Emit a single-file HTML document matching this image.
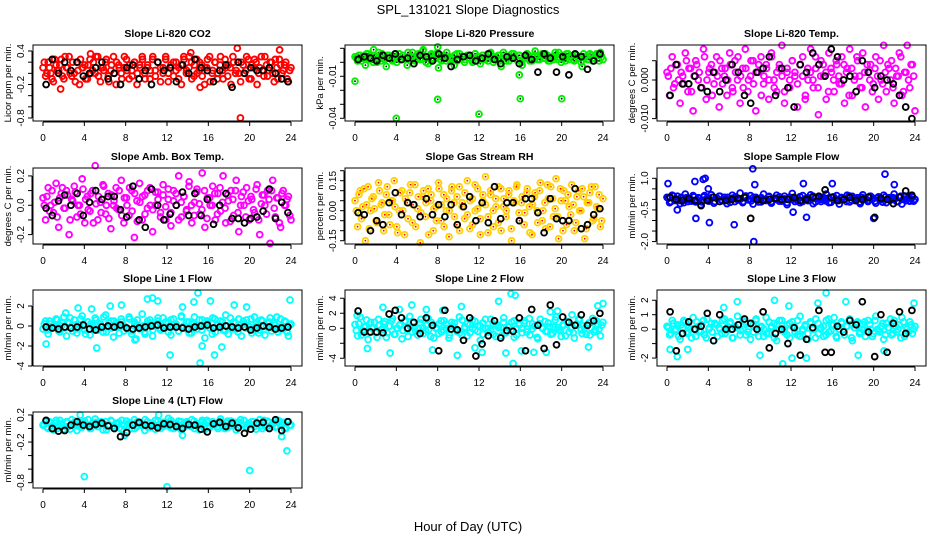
<!DOCTYPE html>
<html><head><meta charset="utf-8"><style>
html,body{margin:0;padding:0;background:#fff;}
svg{display:block;font-family:"Liberation Sans","DejaVu Sans",sans-serif;}
</style></head><body>
<svg id="chart" width="936" height="540" viewBox="0 0 936 540" xmlns="http://www.w3.org/2000/svg">
<rect width="936" height="540" fill="#fff"/>
<text x="468" y="14" text-anchor="middle" font-size="13">SPL_131021  Slope Diagnostics</text>
<text x="468" y="531" text-anchor="middle" font-size="13">Hour of Day (UTC)</text>
</svg>
<script>
// ---- data ----
const hourTicks = [0,4,8,12,16,20,24];
const co2Vals = [0.1,-0.05,0.2,0.0,-0.15,0.15,0.05,0.25,-0.1,0.1,0.3,-0.05,0.0,0.2,-0.2,0.1,0.15,-0.1,0.25,0.05,0.0,0.3,-0.15,0.1,0.2,-0.05,0.05,0.3,-0.2,0.15,0.0,0.1,0.25,-0.1,0.05,0.2,-0.2,0.15,0.3,0.0,0.1,-0.1,0.25,0.05,0.2,-0.15,0.1,0.3,0.0,0.15,-0.05,0.2,0.1,-0.2,0.25,0.05,0.3,-0.1,0.15,0.0,0.2,-0.05,0.1,0.25,-0.15,0.05,0.2,0.0,0.3,-0.1,0.1,0.15,-0.2,0.2,0.05,0.0,0.2,0.0,0.3,-0.1,0.15,0.25,-0.2,0.1,0.05,0.3,-0.05,0.2,0.0,0.25,-0.1,0.15,0.05,0.2,-0.15,0.1];
const co2Vals2 = [0.2,0.0,0.1,-0.1,0.25,0.05,0.15,-0.05,0.3,0.1,0.0,0.2,-0.15,0.05,0.25,0.1,-0.1,0.15,0.0,0.2,0.3,-0.05,0.1,0.05,0.25,-0.15,0.15,0.0,0.2,0.1,-0.1,0.3,0.05,0.15,-0.05,0.2,0.0,0.1,0.25,-0.1,0.15,0.05,0.3,-0.05,0.2,0.1,0.0,0.25,-0.15,0.1,0.2,0.05,-0.1,0.15,0.3,0.0,0.1,0.2,-0.05,0.25,0.05,0.15,-0.2,0.1,0.3,0.0,0.2,-0.1,0.15,0.05,0.25,-0.05,0.1,0.3,0.0,0.2,-0.15,0.15,0.05,0.25,-0.1,0.1,0.2,0.0,0.3,-0.05,0.15,0.05,0.2,-0.15,0.1,0.25,0.0,0.15,-0.1,0.05];
const co2OutHours = [19.1,18.8,22.9,1.7,15.2,14.3,4.6];
const co2OutVals = [-0.8,0.45,0.42,-0.28,-0.25,0.37,0.35];
const co2Black = [-0.2,0.25,0.0,0.2,0.05,0.2,-0.05,0.0,0.1,0.2,-0.1,0.0,-0.2,0.1,0.15,-0.1,0.05,-0.2,0.2,0.05,0.1,-0.15,0.15,0.0,0.25,0.1,0.05,-0.15,0.05,0.15,-0.25,0.2,0.0,0.1,0.05,0.05,0.1,0.0,-0.1,-0.15];

const presVals = [0.004,0.001,0.005,0.003,-0.002,0.006,0.002,0.000,0.004,0.007,0.001,0.003,-0.003,0.005,0.002,0.004,0.000,0.006,0.002,0.003,-0.002,0.005,0.007,0.001,0.004,0.002,0.008,0.003,-0.001,0.005,0.003,0.006,-0.004,0.002,0.005,0.001,0.004,0.003,-0.002,0.006,0.002,0.004,0.000,0.005,0.003,0.001,0.006,0.004,-0.001,0.005,0.002,0.003,0.007,0.000,0.004,0.002,-0.003,0.005,0.003,0.001,0.006,0.004,0.002,0.005,-0.002,0.003,0.006,0.001,0.004,0.008,0.002,0.005,0.003,0.006,0.001,0.004,0.002,0.005,0.007,0.000,0.003,0.006,0.002,0.004,0.001,0.005,0.003,-0.003,0.004,0.002,0.006,0.001,0.005,0.003,0.007,0.002];
const presVals2 = [0.003,0.005,0.001,0.004,0.006,0.002,0.003,0.005,0.000,0.004,0.006,0.002,0.005,0.003,0.001,0.006,0.004,0.002,0.005,0.003,0.007,0.001,0.004,0.002,0.006,0.003,0.005,0.000,0.004,0.006,0.002,0.003,0.005,0.001,0.004,0.007,0.002,0.003,0.005,0.001,0.006,0.004,0.002,0.005,0.003,0.000,0.006,0.004,0.002,0.005,0.003,0.001,0.006,0.004,0.003,0.005,0.002,0.007,0.001,0.004,0.003,0.006,0.002,0.005,0.000,0.004,0.006,0.003,0.001,0.005,0.004,0.002,0.006,0.003,0.005,0.001,0.004,0.007,0.002,0.003,0.005,0.001,0.006,0.004,0.002,0.005,0.003,0.000,0.006,0.004,0.002,0.005,0.003,0.006,0.001,0.004];
const presOutHours = [0,4,8,12,16,20,1.8,6.6,8.0,15.9];
const presOutVals = [-0.0135,-0.04,-0.0265,-0.037,-0.026,-0.026,0.009,0.009,0.011,-0.009];
const presBlack = [0.002,0.004,0.003,0.001,0.005,0.003,0.006,0.002,0.003,-0.001,0.005,0.004,0.001,0.006,0.003,-0.003,0.002,0.004,0.005,0.001,0.003,0.006,0.002,-0.001,0.004,0.003,-0.001,0.005,0.002,-0.007,0.006,0.003,-0.007,0.004,-0.009,0.006,0.004,-0.005,0.001,0.006];

const tempVals = [0.002,-0.004,0.006,-0.001,0.004,-0.006,0.001,0.007,-0.003,0.003,-0.008,0.005,0.000,-0.002,0.008,-0.005,0.002,0.004,-0.001,0.006,-0.007,0.003,0.001,-0.004,0.007,-0.002,0.005,0.000,-0.006,0.003,0.008,-0.003,0.001,0.005,-0.008,0.002,0.006,-0.001,0.004,-0.005,0.007,0.000,-0.003,0.003,0.009,-0.006,0.002,-0.002,0.005,0.001,-0.007,0.004,0.006,-0.004,0.000,0.008,-0.002,0.003,-0.009,0.005,0.001,-0.005,0.007,0.002,-0.003,0.004,-0.001,0.006,-0.006,0.003,0.008,-0.004,0.001,0.005,-0.002,0.007,-0.007,0.002,0.004,-0.001,0.006,-0.005,0.000,0.009,-0.003,0.003,0.005,-0.006,0.001,0.007,-0.004,0.002,0.009,-0.002,0.004,-0.008];
const tempVals2 = [0.001,0.003,-0.002,0.004,0.000,0.002,-0.001,0.005,0.003,-0.003,0.001,0.004,0.002,-0.002,0.006,0.000,0.003,-0.004,0.002,0.001,0.005,-0.001,0.003,0.000,0.004,-0.003,0.002,0.006,0.001,-0.002,0.003,0.000,0.005,-0.001,0.002,0.004,-0.004,0.001,0.003,0.000,0.006,-0.002,0.002,0.004,0.001,-0.003,0.003,0.000,0.005,0.002,-0.001,0.004,0.001,-0.005,0.003,0.002,0.000,0.006,-0.002,0.001,0.004,0.002,-0.003,0.003,0.000,0.005,0.001,-0.001,0.004,0.002,-0.004,0.003,0.000,0.006,0.001,-0.002,0.002,0.004,0.000,-0.003,0.003,0.001,0.005,-0.001,0.002,0.004,0.000,-0.002,0.003,0.001,0.006,-0.003,0.002,0.000,0.004,0.001];
const tempBlack = [-0.004,0.004,-0.001,-0.001,0.001,-0.002,-0.003,0.002,-0.003,0.000,0.004,0.002,-0.004,-0.006,0.002,0.003,0.006,-0.004,0.003,-0.002,-0.007,0.004,0.002,0.007,0.004,0.001,0.008,0.006,0.000,0.001,-0.003,0.005,0.002,-0.002,0.001,0.000,-0.001,-0.004,-0.007,-0.010];

const boxVals = [0.05,-0.1,0.12,0.0,-0.05,0.15,-0.15,0.08,-0.02,0.1,-0.2,0.04,0.13,-0.08,0.0,0.18,-0.12,0.06,-0.04,0.1,0.27,-0.1,0.02,0.14,-0.06,0.08,-0.16,0.0,0.12,-0.03,0.17,-0.12,0.05,-0.07,0.1,-0.22,0.03,0.15,-0.1,0.07,-0.02,0.12,-0.18,0.0,0.09,-0.05,0.14,-0.1,0.04,-0.14,0.1,0.0,0.2,-0.08,0.06,-0.03,0.16,-0.12,0.02,0.11,-0.06,0.22,-0.15,0.05,0.0,0.13,-0.1,0.08,-0.04,0.2,-0.12,0.03,0.1,-0.07,0.17,-0.18,0.06,0.0,0.12,-0.1,0.04,-0.05,0.14,-0.2,0.07,0.0,0.1,-0.26,0.17,-0.08,0.05,-0.15,0.1,0.0,0.06,-0.1];
const boxVals2 = [0.0,0.06,-0.04,0.1,0.02,-0.08,0.05,0.12,-0.02,0.07,-0.1,0.03,0.09,0.0,-0.06,0.11,0.04,-0.03,0.08,-0.12,0.01,0.06,-0.05,0.13,0.0,-0.09,0.07,0.03,-0.02,0.1,-0.07,0.05,0.0,0.12,-0.04,0.08,-0.11,0.02,0.06,-0.06,0.1,0.0,-0.03,0.09,0.04,-0.08,0.07,-0.01,0.11,-0.05,0.03,0.08,-0.1,0.02,0.06,-0.04,0.13,0.0,-0.07,0.09,0.01,-0.03,0.1,-0.09,0.05,0.0,0.08,-0.06,0.12,0.02,-0.02,0.07,-0.11,0.04,0.1,-0.05,0.0,0.09,-0.08,0.03,0.06,-0.03,0.11,-0.1,0.01,0.07,-0.06,0.04,0.1,-0.02,0.05,-0.12,0.08,0.0,0.04,-0.07];
const boxBlack = [-0.02,-0.07,0.03,0.07,0.0,0.08,-0.07,0.02,0.1,0.04,0.06,0.06,-0.03,-0.08,0.13,-0.1,-0.15,0.11,0.0,-0.1,-0.06,0.0,0.09,-0.07,0.08,-0.07,0.04,-0.13,0.0,0.08,-0.09,-0.09,-0.12,-0.09,-0.08,-0.04,0.11,-0.09,0.02,-0.05];

const rhVals = [0.05,-0.08,0.1,0.02,-0.15,0.12,0.0,0.07,-0.05,0.14,0.03,-0.1,0.08,-0.02,0.05,0.15,-0.08,0.0,0.1,-0.12,0.04,0.09,-0.06,0.13,0.01,-0.16,0.07,-0.03,0.11,0.05,-0.1,0.02,0.14,-0.05,0.08,0.0,-0.13,0.1,0.04,-0.07,0.12,0.02,-0.04,0.15,-0.09,0.06,0.0,0.11,-0.12,0.05,0.17,-0.03,0.08,-0.08,0.02,0.12,-0.1,0.06,0.0,0.1,-0.15,0.04,0.13,-0.05,0.07,-0.01,0.11,-0.11,0.03,0.09,-0.06,0.14,0.0,-0.09,0.06,0.12,-0.03,0.16,-0.14,0.05,0.1,-0.07,0.02,0.13,-0.1,0.07,0.0,0.11,-0.14,0.04,0.09,-0.05,0.12,0.01,-0.08,0.06];
const rhVals2 = [0.0,0.08,-0.04,0.11,0.03,-0.09,0.06,0.01,-0.06,0.1,0.04,-0.02,0.12,-0.07,0.05,0.02,-0.11,0.09,0.0,0.06,-0.04,0.13,0.03,-0.08,0.07,-0.01,0.1,0.04,-0.12,0.08,0.01,-0.05,0.11,0.03,-0.08,0.06,0.0,0.12,-0.03,0.07,-0.1,0.04,0.09,-0.02,0.05,-0.07,0.13,0.01,-0.04,0.08,0.03,-0.11,0.1,0.0,0.06,-0.06,0.11,0.02,-0.03,0.08,-0.09,0.05,0.12,-0.01,0.04,-0.07,0.09,0.02,-0.12,0.07,0.0,0.1,-0.05,0.04,0.13,-0.08,0.06,0.01,-0.03,0.11,-0.1,0.05,0.08,-0.02,0.03,-0.06,0.1,0.0,0.07,-0.09,0.04,0.12,-0.04,0.02,0.08,-0.05];
const rhBlack = [-0.01,-0.02,-0.1,-0.05,-0.07,0.04,0.09,-0.02,0.04,0.03,-0.03,0.06,-0.02,0.03,-0.03,0.03,-0.07,0.02,0.07,-0.05,0.04,-0.06,0.12,-0.04,0.04,0.04,-0.05,0.06,0.06,-0.01,-0.11,0.06,-0.04,-0.05,-0.05,0.11,-0.09,-0.07,-0.02,0.01];

const flowVals = [0.1,-0.15,0.2,-0.05,0.15,-0.2,0.05,0.25,-0.1,0.0,0.18,-0.12,0.08,-0.25,0.12,0.02,-0.08,0.22,-0.18,0.06,0.15,-0.04,0.1,-0.2,0.0,0.2,-0.1,0.05,0.3,-0.15,0.08,-0.02,0.18,-0.22,0.1,0.0,-0.12,0.25,-0.05,0.12,-0.18,0.04,0.2,-0.08,0.0,0.15,-0.25,0.1,0.28,-0.1,0.05,-0.15,0.18,0.0,-0.06,0.22,-0.2,0.08,0.12,-0.1,0.02,0.25,-0.15,0.1,-0.03,0.18,-0.22,0.06,0.0,0.2,-0.12,0.14,-0.05,0.08,-0.2,0.22,0.0,-0.1,0.15,0.05,-0.18,0.12,-0.02,0.2,-0.15,0.08,0.0,0.25,-0.1,0.1,-0.22,0.16,0.03,-0.08,0.12,0.0];
const flowVals2 = [0.05,-0.1,0.15,0.0,-0.05,0.1,-0.15,0.08,0.0,-0.08,0.12,-0.02,0.05,-0.12,0.18,0.0,-0.05,0.1,-0.1,0.04,0.15,-0.06,0.0,0.1,-0.14,0.06,0.12,-0.03,0.02,-0.1,0.16,0.0,-0.07,0.1,0.04,-0.12,0.08,0.0,-0.04,0.14,-0.1,0.05,0.0,0.12,-0.08,0.03,-0.15,0.1,0.0,0.06,-0.05,0.13,-0.1,0.02,0.08,-0.03,0.15,-0.12,0.04,0.0,0.1,-0.07,0.06,-0.14,0.12,0.0,-0.05,0.09,0.02,-0.1,0.16,-0.04,0.05,0.0,-0.12,0.1,0.03,-0.06,0.14,0.0,-0.09,0.07,0.02,-0.13,0.11,0.0,-0.04,0.08,0.05,-0.1,0.15,0.0,-0.06,0.1,0.02,-0.08];
const flowOutHours = [0.1,2.7,2.8,3.5,3.7,4.1,6.5,8.3,8.4,12.2,13.5,16,20,21.1,22,13.2,1.0,8.5,4.0];
const flowOutVals = [0.75,0.85,-0.9,0.95,1.0,-1.1,-1.2,1.45,-2.0,-0.6,-0.85,0.75,-0.9,1.2,0.7,0.75,-0.5,0.7,0.5];
const flowBlack = [0.1,0.0,-0.05,0.05,-0.05,-0.3,-0.05,0.1,-0.1,-0.05,0.0,0.05,0.1,-0.9,0.0,-0.05,0.0,0.05,0.0,0.0,0.1,-0.05,0.0,0.1,0.15,0.45,0.1,-0.05,0.0,0.1,-0.05,0.0,0.1,-0.85,0.05,0.0,-0.2,0.1,0.4,0.2];

const l1Vals = [-0.3,0.5,-0.8,0.2,-0.1,0.7,-0.5,0.0,0.9,-1.0,0.3,-0.2,0.6,-0.7,0.1,1.0,-0.4,0.4,-0.9,0.0,0.8,-0.3,0.2,-0.6,1.1,-0.1,0.5,-1.1,0.3,0.0,0.7,-0.5,-0.2,0.9,-0.8,0.4,0.1,-0.3,1.2,-0.6,0.2,0.6,-1.0,0.0,0.5,-0.4,0.8,-0.2,0.3,-0.9,0.7,0.0,-0.5,1.0,-0.1,0.4,-0.7,0.2,0.9,-0.3,0.0,0.6,-1.2,0.3,-0.2,0.8,-0.6,0.1,0.5,-0.4,1.1,-0.8,0.0,0.4,-0.3,0.7,-1.0,0.2,0.6,-0.1,-0.7,0.9,0.0,-0.4,0.5,-0.9,0.3,0.8,-0.2,0.1,-0.6,0.7,-0.3,0.4,-1.0,0.2];
const l1Vals2 = [0.2,-0.4,0.5,-0.1,0.0,0.6,-0.6,0.3,-0.2,0.4,0.8,-0.5,0.1,-0.3,0.7,0.0,-0.8,0.4,0.2,-0.1,0.6,-0.4,0.0,0.9,-0.6,0.3,-0.2,0.5,0.1,-0.7,0.4,0.0,-0.3,0.7,-0.5,0.2,0.6,-0.1,0.0,-0.8,0.5,0.3,-0.4,0.1,0.8,-0.2,0.0,0.4,-0.6,0.6,-0.1,0.2,-0.5,0.9,0.0,-0.3,0.4,-0.7,0.3,0.1,0.6,-0.4,0.0,0.5,-0.2,-0.8,0.7,0.2,-0.1,0.4,-0.5,0.0,0.8,-0.3,0.3,-0.6,0.1,0.5,-0.2,0.0,0.7,-0.4,0.2,-0.7,0.6,0.0,-0.1,0.4,-0.5,0.3,0.9,-0.3,0.0,0.5,-0.6,0.1];
const l1OutHours = [0.3,2.2,3.4,4.7,6.5,7.6,8.9,10.1,10.6,11.1,12.3,14.6,15.0,15.2,15.4,16.6,17.3,18.5,19.7,23.9,5.2,13.5,9.0,16.2];
const l1OutVals = [-1.8,1.3,1.8,1.7,2.0,2.1,-1.4,2.7,2.8,2.5,-2.9,2.4,3.3,-3.7,-2.0,-2.9,-2.1,2.1,1.9,2.6,-2.2,1.9,-1.3,2.5];
const l1Black = [-0.1,-0.2,-0.3,-0.1,-0.2,-0.1,0.1,-0.3,-0.4,-0.1,0.0,-0.1,0.1,-0.2,-0.3,-0.2,-0.1,0.0,0.1,-0.2,-0.1,-0.1,-0.2,-0.3,-0.1,0.0,0.1,-0.2,-0.1,0.0,-0.1,-0.2,-0.1,-0.4,-0.2,0.0,-0.1,-0.3,-0.2,-0.1];

const l2Vals = [0.5,-1.0,1.5,-0.3,0.2,-1.5,0.8,0.0,-0.6,1.2,-0.2,0.6,-1.2,0.3,1.0,-0.8,0.0,0.4,-1.4,0.9,-0.1,1.6,-0.5,0.2,-0.9,0.7,0.1,-0.3,1.3,-1.1,0.4,0.0,-0.7,1.0,-0.2,0.5,-1.3,0.8,0.2,-0.4,1.5,-0.9,0.0,0.6,-0.6,1.1,-0.2,0.3,-1.6,0.7,0.0,-0.5,1.2,-0.8,0.4,0.1,-1.0,1.4,-0.3,0.2,0.8,-1.2,0.0,0.5,-0.6,1.0,-0.1,-0.9,0.6,0.3,-1.4,1.2,0.0,-0.4,0.7,-0.8,0.2,1.5,-0.2,-1.1,0.4,0.9,-0.5,0.1,-1.3,0.6,1.1,-0.7,0.0,0.3,-0.9,1.3,-0.2,0.5,-1.0,0.8];
const l2Vals2 = [-0.3,0.6,-0.9,0.2,1.1,-0.5,0.0,0.8,-1.2,0.4,-0.1,0.9,-0.6,0.3,1.3,-0.8,0.0,0.5,-0.3,1.0,-1.1,0.2,0.7,-0.4,0.0,1.2,-0.7,0.4,-0.2,0.8,-1.3,0.1,0.6,-0.5,1.0,0.0,-0.9,0.3,0.7,-0.2,-0.6,1.1,0.2,-1.0,0.5,0.0,0.9,-0.4,0.3,-0.8,1.2,0.0,-0.3,0.6,-1.1,0.4,0.1,0.8,-0.6,0.2,-0.2,1.0,-0.9,0.5,0.0,0.7,-0.5,1.3,-0.1,0.3,-1.2,0.6,0.0,0.9,-0.4,0.2,-0.7,1.1,0.1,-0.3,0.5,-1.0,0.8,0.0,-0.6,0.4,1.2,-0.2,0.3,-0.8,0.7,0.0,-0.5,1.0,-0.1,0.4];
const l2OutHours = [0.2,1.2,2.7,5.5,6.9,8.5,9.9,10.3,11.6,12.3,13.9,14.6,15.1,15.3,15.5,16.1,17.3,18.5,19.6,21.0,22.6,23.5,24.0,4.3,7.5,3.4,18.9];
const l2OutVals = [1.7,-2.7,2.8,3.1,2.5,2.4,-3.6,2.9,-2.6,-3.2,3.6,-3.3,4.6,-4.7,4.4,-3.0,-3.2,-3.2,2.3,1.8,-2.5,3.0,3.3,2.5,-2.9,-3.3,2.2];
const l2Black = [2.3,-0.5,-0.5,-0.5,-0.6,1.9,2.4,1.4,0.0,0.8,-0.7,1.4,0.4,-3.0,2.4,-0.1,-0.2,-1.6,1.4,-3.7,-2.1,-1.0,1.0,-1.3,-0.3,-0.4,1.4,-3.0,2.5,0.4,-2.7,3.1,-2.2,1.5,0.8,0.4,1.8,0.4,1.0,2.0];

const l3Vals = [0.2,-0.4,0.6,-0.1,0.3,-0.7,0.1,0.5,-0.3,0.0,0.8,-0.5,0.2,-0.2,0.6,-0.6,0.0,0.4,-0.8,0.3,0.1,-0.3,0.7,-0.1,0.4,-0.6,0.2,0.9,-0.4,0.0,0.5,-0.2,-0.7,0.3,0.6,-0.1,0.1,-0.5,0.8,-0.3,0.2,0.4,-0.8,0.0,0.6,-0.2,0.3,-0.6,0.5,0.1,-0.4,0.9,-0.1,0.2,-0.7,0.4,0.0,0.7,-0.3,0.1,-0.5,0.6,-0.2,0.3,0.8,-0.6,0.0,0.4,-0.4,0.2,0.7,-0.8,0.1,0.5,-0.2,0.3,-0.5,0.6,0.0,-0.3,0.9,-0.1,0.2,-0.7,0.4,0.1,-0.4,0.6,-0.2,0.3,0.8,-0.5,0.0,0.5,-0.3,0.2];
const l3Vals2 = [0.1,-0.3,0.4,0.0,-0.5,0.3,0.6,-0.2,0.2,-0.6,0.0,0.5,-0.1,0.3,-0.4,0.7,0.1,-0.2,0.4,-0.5,0.0,0.6,-0.3,0.2,0.5,-0.6,0.1,0.3,-0.1,0.6,-0.4,0.0,0.4,-0.2,0.7,-0.5,0.2,0.0,-0.3,0.5,0.1,-0.6,0.3,0.6,-0.1,0.0,-0.4,0.4,0.2,-0.2,0.6,-0.5,0.0,0.3,-0.3,0.5,0.1,-0.6,0.4,0.0,0.2,-0.4,0.7,-0.1,0.3,-0.5,0.0,0.5,-0.2,0.2,0.6,-0.6,0.1,0.4,-0.3,0.0,0.5,-0.1,0.3,-0.5,0.6,0.0,-0.2,0.4,-0.4,0.1,0.7,-0.3,0.2,0.0,-0.6,0.5,0.1,-0.2,0.3,0.0];
const l3OutHours = [0.3,2.0,6.8,10.4,11.2,11.8,13.5,15.4,17.3,21.0,23.9,1.0,9.0,14.6,18.5,12.1,5.5];
const l3OutVals = [-1.4,-1.4,1.9,2.0,-2.4,1.6,-2.0,2.5,1.9,-1.5,1.8,-1.9,-1.8,1.8,-1.8,-2.0,1.5];
const l3Black = [1.2,-1.5,-0.3,0.5,0.0,0.2,1.1,-0.8,1.0,0.0,0.0,0.3,0.7,0.4,0.0,1.2,-1.3,-0.3,0.0,-1.0,0.1,-1.8,-0.7,0.1,1.3,-1.6,-1.6,0.2,-0.2,0.6,0.3,1.9,-0.2,-1.9,1.0,-1.6,0.4,1.2,-0.3,1.3];

const l4Vals = [0.05,0.1,0.0,0.08,-0.02,0.12,0.04,0.07,-0.01,0.1,0.03,0.13,0.06,-0.03,0.09,0.02,0.11,0.05,0.0,0.08,0.14,0.03,0.06,-0.02,0.1,0.05,0.12,0.01,0.07,0.09,-0.01,0.04,0.11,0.06,0.0,0.13,0.03,0.08,0.05,-0.03,0.1,0.02,0.07,0.12,0.04,0.0,0.09,0.06,0.15,0.01,0.08,0.03,0.11,-0.02,0.06,0.1,0.04,0.13,0.0,0.07,0.05,0.12,-0.01,0.09,0.03,0.1,0.06,0.0,0.14,0.04,0.08,0.02,0.11,0.05,-0.02,0.09,0.07,0.12,0.01,0.06,0.1,0.03,0.08,0.13,0.0,0.05,0.11,0.04,0.07,0.02,0.12,0.06,0.09,0.0,0.1,0.05];
const l4Vals2 = [0.06,0.02,0.1,0.04,0.08,0.0,0.12,0.05,0.03,0.09,-0.01,0.07,0.11,0.04,0.02,0.08,0.06,0.13,0.0,0.05,0.09,0.03,0.1,0.07,-0.02,0.06,0.11,0.04,0.08,0.01,0.12,0.05,0.03,0.09,0.06,0.0,0.1,0.07,0.04,0.13,0.02,0.08,0.05,-0.01,0.11,0.06,0.03,0.09,0.04,0.12,0.0,0.07,0.05,0.1,0.02,0.08,0.06,0.03,0.11,0.04,-0.02,0.09,0.07,0.12,0.01,0.05,0.08,0.03,0.1,0.06,0.0,0.11,0.04,0.07,0.09,0.02,0.13,0.05,0.03,0.08,0.06,0.1,-0.01,0.07,0.04,0.12,0.02,0.09,0.05,0.08,0.03,0.11,0.06,0.0,0.1,0.05];
const l4OutHours = [4.0,12.0,20.0,23.6,3.6,11.2,13.5,7.9,23.1];
const l4OutVals = [-0.71,-0.86,-0.62,-0.33,0.2,0.2,-0.1,-0.1,-0.12];
const l4Black = [0.12,0.0,-0.04,-0.03,0.05,0.1,0.05,0.03,0.06,0.08,0.04,0.0,-0.12,-0.06,0.05,0.09,0.05,0.04,0.01,0.07,0.06,0.03,0.0,0.06,0.05,-0.01,-0.05,0.07,0.09,0.03,0.08,0.01,-0.07,-0.01,0.08,0.09,0.0,0.13,-0.03,0.1];

// ---- layout ----
const NS = "http://www.w3.org/2000/svg";
const svg = document.getElementById("chart");
const colLeft = [33,345,657], rowTop = [45,168,290,412], BW = 269, BH = 76;
function el(tag, attrs, parent){ const e=document.createElementNS(NS,tag); for(const k in attrs) e.setAttribute(k,attrs[k]); (parent||svg).appendChild(e); return e; }

const panels = [
 {key:"co2",title:"Slope Li-820 CO2",ylab:"Licor ppm per min.",c:0,r:0,lo:-0.854,hi:0.5075,ticks:[0.4,0.2,0,-0.2,-0.4,-0.6,-0.8],labels:{"0.4":"0.4","-0.2":"-0.2","-0.8":"-0.8"},vals:co2Vals,vals2:co2Vals2,oh:co2OutHours,ov:co2OutVals,black:co2Black,col:"#ff0000"},
 {key:"pressure",title:"Slope Li-820 Pressure",ylab:"kPa per min.",c:1,r:0,lo:-0.04193,hi:0.01236,ticks:[0.01,0,-0.01,-0.02,-0.03,-0.04],labels:{"-0.01":"-0.01","-0.04":"-0.04"},vals:presVals,vals2:presVals2,oh:presOutHours,ov:presOutVals,black:presBlack,col:"#00ee00",dot:"#000"},
 {key:"temp",title:"Slope Li-820 Temp.",ylab:"degrees C per min.",c:2,r:0,lo:-0.01062,hi:0.00907,ticks:[0.005,0,-0.005,-0.01],labels:{"0":"0.000","-0.01":"-0.010"},vals:tempVals,vals2:tempVals2,oh:[],ov:[],black:tempBlack,col:"#ff00ff"},
 {key:"ambbox",title:"Slope Amb. Box Temp.",ylab:"degrees C per min.",c:0,r:1,lo:-0.264,hi:0.254,ticks:[0.2,0.1,0,-0.1,-0.2],labels:{"0.2":"0.2","0":"0.0","-0.2":"-0.2"},vals:boxVals,vals2:boxVals2,oh:[],ov:[],black:boxBlack,col:"#ff00ff"},
 {key:"rh",title:"Slope Gas Stream RH",ylab:"percent per min.",c:1,r:1,lo:-0.1665,hi:0.2135,ticks:[0.2,0.15,0.1,0.05,0,-0.05,-0.1,-0.15],labels:{"0.15":"0.15","0":"0.00","-0.15":"-0.15"},vals:rhVals,vals2:rhVals2,oh:[],ov:[],black:rhBlack,col:"#ffd200",dot:"#ff0000"},
 {key:"sampleflow",title:"Slope Sample Flow",ylab:"ml/min per min.",c:2,r:1,lo:-2.114,hi:1.488,ticks:[1,0.5,0,-0.5,-1,-1.5,-2],labels:{"1":"1.0","-0.5":"-0.5","-2":"-2.0"},vals:flowVals,vals2:flowVals2,oh:flowOutHours,ov:flowOutVals,black:flowBlack,col:"#0000ff"},
 {key:"line1",title:"Slope Line 1 Flow",ylab:"ml/min per min.",c:0,r:2,lo:-4.0,hi:3.6,ticks:[2,0,-2,-4],labels:{"2":"2","0":"0","-2":"-2","-4":"-4"},vals:l1Vals,vals2:l1Vals2,oh:l1OutHours,ov:l1OutVals,black:l1Black,col:"#00ffff"},
 {key:"line2",title:"Slope Line 2 Flow",ylab:"ml/min per min.",c:1,r:2,lo:-5.03,hi:5.1,ticks:[4,2,0,-2,-4],labels:{"4":"4","2":"2","0":"0","-4":"-4"},vals:l2Vals,vals2:l2Vals2,oh:l2OutHours,ov:l2OutVals,black:l2Black,col:"#00ffff"},
 {key:"line3",title:"Slope Line 3 Flow",ylab:"ml/min per min.",c:2,r:2,lo:-2.55,hi:2.71,ticks:[2,1,0,-1,-2],labels:{"2":"2","1":"1","0":"0","-2":"-2"},vals:l3Vals,vals2:l3Vals2,oh:l3OutHours,ov:l3OutVals,black:l3Black,col:"#00ffff"},
 {key:"line4",title:"Slope Line 4 (LT) Flow",ylab:"ml/min per min.",c:0,r:3,lo:-0.879,hi:0.244,ticks:[0.2,0,-0.2,-0.4,-0.6,-0.8],labels:{"0.2":"0.2","-0.2":"-0.2","-0.8":"-0.8"},vals:l4Vals,vals2:l4Vals2,oh:l4OutHours,ov:l4OutVals,black:l4Black,col:"#00ffff"}
];

panels.forEach(p=>{
  const L=colLeft[p.c], T=rowTop[p.r], B=T+BH;
  const xs = h => L+10 + h*248/24;
  const ys = v => B - (v-p.lo)/(p.hi-p.lo)*BH;
  const g = el("g",{});
  
  
  const t = el("text",{x:L+BW/2,y:T-8,"text-anchor":"middle","font-size":"10.5","font-weight":"bold"},g);
  t.textContent=p.title;
  
  
  const yl = el("text",{x:0,y:0,transform:`translate(${L-22},${T+BH/2}) rotate(-90)`,"text-anchor":"middle","font-size":"9.5"},g);
  yl.textContent=p.ylab;
  
  
  const pts = el("g",{},g);
  
  
  const draw=(h,v,col)=>{
    const c = el("circle",{cx:xs(h).toFixed(1),cy:ys(v).toFixed(1),r:"2.9",fill:"none",stroke:col,"stroke-width":"1.9"},pts);
    
    
    if(p.dot && col!=="#000"){ const d=el("circle",{cx:xs(h).toFixed(1),cy:ys(v).toFixed(1),r:"0.9",fill:p.dot},pts);
      
       }
  };
  const n=p.vals.length, n2=p.vals2.length;
  p.vals.forEach((v,i)=>draw(i*24/(n-1),v,p.col));
  p.vals2.forEach((v,i)=>draw((i+0.5)*24/n2,v,p.col));
  p.oh.forEach((h,i)=>draw(h,p.ov[i],p.col));
  p.black.forEach((v,i)=>draw((i+0.5)*24/p.black.length,v,"#000"));
  const box = el("rect",{x:L,y:T,width:BW,height:BH,fill:"none",stroke:"#000","stroke-width":"1"},g);
  
  
  const xa = el("g",{stroke:"#000","stroke-width":"1"},g);
  
  
  el("line",{x1:xs(0),x2:xs(24),y1:B+1,y2:B+1},xa);
  hourTicks.forEach(h=>{
    el("line",{x1:xs(h),x2:xs(h),y1:B+1,y2:B+5},xa);
    const tl=el("text",{x:xs(h),y:B+20,"text-anchor":"middle","font-size":"10",stroke:"none",fill:"#000"},g);
    tl.textContent=h;
    
    
  });
  const ya = el("g",{stroke:"#000","stroke-width":"1"},g);
  
  
  el("line",{x1:L-1,x2:L-1,y1:ys(p.ticks[0]),y2:ys(p.ticks[p.ticks.length-1])},ya);
  p.ticks.forEach(v=>{
    el("line",{x1:L-5,x2:L-1,y1:ys(v),y2:ys(v)},ya);
    const key=String(v);
    if(p.labels[key]!==undefined){
      const tl=el("text",{x:0,y:0,transform:`translate(${L-9},${ys(v)}) rotate(-90)`,"text-anchor":"middle","font-size":"10",stroke:"none",fill:"#000"},g);
      tl.textContent=p.labels[key];
      
      
    }
  });
});
</script>
</body></html>
